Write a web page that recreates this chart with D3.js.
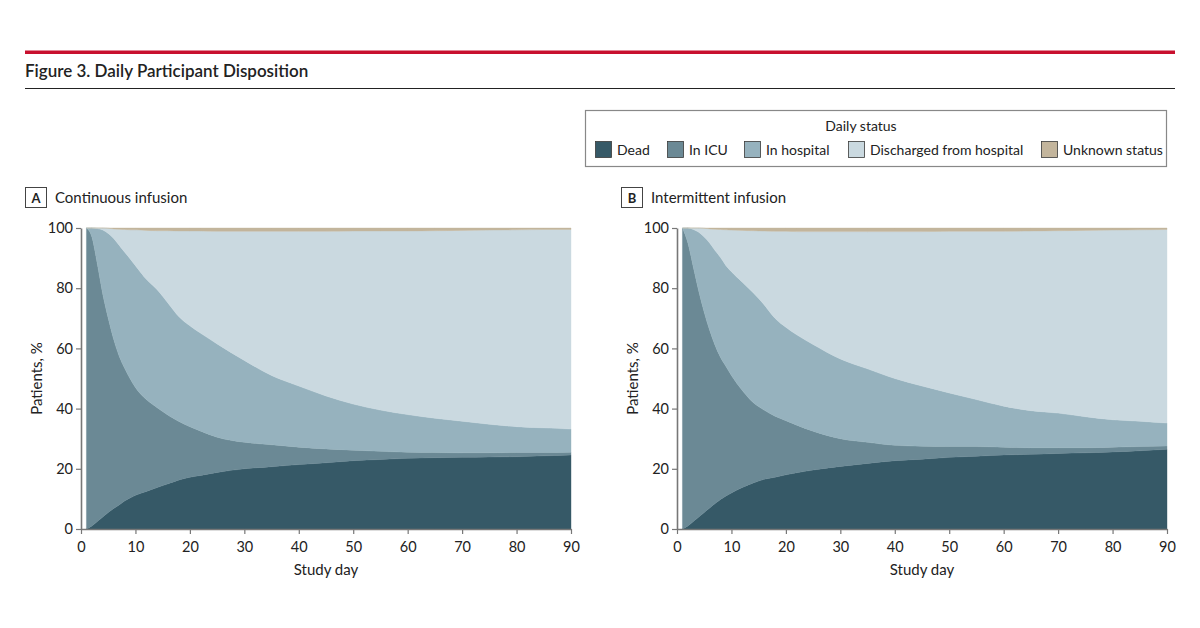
<!DOCTYPE html>
<html>
<head>
<meta charset="utf-8">
<script src="https://cdn.jsdelivr.net/npm/d3@7"></script>
<style>
  body { margin: 0; background: #fff; }
  text { font-family: Lato, "Open Sans", sans-serif; fill: #222; }
</style>
</head>
<body>
<div id="chart"></div>
<script>
var svgWidth = 1200;
var svgHeight = 628;

// study days sampled from the figure
var days = [1, 2, 3, 4, 5, 6, 7, 8, 9, 10, 12, 14, 16, 18, 20, 22, 25, 30, 35, 40, 45, 50, 55, 60, 65, 70, 75, 80, 85, 90];

var statusKeys = ["dead", "icu", "hospital", "discharged", "unknown"];
var statusLabels = ["Dead", "In ICU", "In hospital", "Discharged from hospital", "Unknown status"];
var statusColors = ["#365967", "#6b8995", "#96b2be", "#cad9e0", "#c3b59c"];

// Panel A: continuous infusion (% of patients per status)
var deadA = [0, 1, 2.5, 4, 5.5, 6.8, 8, 9.3, 10.3, 11.2, 12.5, 13.8, 15, 16.3, 17.2, 17.8, 18.8, 20, 20.7, 21.4, 22, 22.7, 23.1, 23.5, 23.7, 23.8, 23.9, 24, 24.3, 24.6];
var icuA = [100, 96, 85.5, 74, 64.5, 56.2, 49.5, 44.2, 39.7, 35.8, 30.5, 26.5, 22.8, 19.4, 16.8, 14.7, 11.7, 8.8, 7.3, 5.8, 4.6, 3.5, 2.7, 2.0, 1.7, 1.5, 1.4, 1.4, 1.1, 0.9];
var hospitalA = [0, 3, 11.8, 21.3, 28.2, 33.5, 36.8, 38.5, 39.8, 40.5, 40, 39.2, 37.2, 34.8, 33.5, 32.5, 31, 27.2, 23, 20.3, 17.6, 15.3, 13.7, 12.5, 11.4, 10.5, 9.5, 8.6, 8.2, 7.7];
var dischargedA = [0, 0, 0.2, 0.7, 1.7, 3.2, 5.3, 7.5, 9.6, 11.9, 16.2, 19.6, 24.1, 28.5, 31.5, 34, 37.4, 42.9, 47.9, 51.4, 54.7, 57.5, 59.5, 61, 62.3, 63.4, 64.5, 65.4, 65.9, 66.3];
var unknownA = [0, 0, 0, 0, 0.1, 0.3, 0.4, 0.5, 0.6, 0.6, 0.8, 0.9, 0.9, 1.0, 1.0, 1.0, 1.1, 1.1, 1.1, 1.1, 1.1, 1.0, 1.0, 1.0, 0.9, 0.8, 0.7, 0.6, 0.5, 0.5];

// Panel B: intermittent infusion
var deadB = [0, 1, 2.5, 4, 5.5, 7, 8.5, 9.8, 11, 12, 13.8, 15.3, 16.5, 17.2, 18, 18.7, 19.6, 20.8, 21.8, 22.7, 23.2, 23.8, 24.2, 24.6, 24.8, 25.1, 25.3, 25.6, 26, 26.5];
var icuB = [100, 94, 84.5, 75, 66.5, 59, 52.5, 47.2, 43, 39, 32.2, 26.7, 23, 20.3, 18, 15.8, 12.9, 9.2, 7, 5.1, 4.3, 3.6, 3.2, 2.6, 2.2, 1.9, 1.7, 1.6, 1.4, 1.1];
var hospitalB = [0, 5, 12.5, 19.6, 25, 29, 31.5, 33.2, 33.5, 34.5, 36, 36.5, 35, 32.5, 31, 30, 28.8, 26.5, 24.4, 22.2, 20, 17.8, 15.6, 13.6, 12.3, 11.5, 10.3, 9.1, 8.4, 7.6];
var dischargedB = [0, 0, 0.5, 1.4, 2.9, 4.7, 7.1, 9.3, 11.9, 13.8, 17.2, 20.6, 24.5, 28.9, 31.9, 34.3, 37.5, 42.3, 45.6, 48.8, 51.3, 53.7, 55.9, 58.1, 59.7, 60.6, 61.9, 63, 63.6, 64.3];
var unknownB = [0, 0, 0, 0, 0.1, 0.3, 0.4, 0.5, 0.6, 0.7, 0.8, 0.9, 1.0, 1.1, 1.1, 1.2, 1.2, 1.2, 1.2, 1.2, 1.2, 1.1, 1.1, 1.1, 1.0, 0.9, 0.8, 0.7, 0.6, 0.5];

var xTicks = [0, 10, 20, 30, 40, 50, 60, 70, 80, 90];
var yTicks = [0, 20, 40, 60, 80, 100];

var svg = d3.select("#chart")
  .append("svg")
  .attr("width", svgWidth)
  .attr("height", svgHeight);

// header: red rule, title, black rule
svg.append("rect")
  .attr("x", 25).attr("y", 50.5)
  .attr("width", 1150).attr("height", 3.5)
  .attr("fill", "#c8102e");

svg.append("text")
  .attr("x", 25).attr("y", 77)
  .attr("font-size", "17px")
  .attr("font-weight", 600)
  .text("Figure 3. Daily Participant Disposition");

svg.append("line")
  .attr("x1", 25).attr("x2", 1175)
  .attr("y1", 88.5).attr("y2", 88.5)
  .attr("stroke", "#222").attr("stroke-width", 1.2);

// legend
var legend = svg.append("g");
legend.append("rect")
  .attr("x", 585.5).attr("y", 110.5)
  .attr("width", 581).attr("height", 56)
  .attr("fill", "#fff")
  .attr("stroke", "#888").attr("stroke-width", 1.2);

legend.append("text")
  .attr("x", 861).attr("y", 131)
  .attr("text-anchor", "middle")
  .attr("font-size", "14px")
  .text("Daily status");

var legendX = [595, 667, 744, 848, 1041];
statusKeys.forEach(function(key, i) {
  legend.append("rect")
    .attr("x", legendX[i] + 0.5).attr("y", 141.5)
    .attr("width", 16).attr("height", 16)
    .attr("fill", statusColors[i])
    .attr("stroke", "#3a3a3a").attr("stroke-width", 0.8);
  legend.append("text")
    .attr("x", legendX[i] + 22).attr("y", 155)
    .attr("font-size", "14px")
    .text(statusLabels[i]);
});

function buildRows(dead, icu, hospital, discharged, unknown) {
  return days.map(function(d, i) {
    return {
      day: d,
      dead: dead[i],
      icu: icu[i],
      hospital: hospital[i],
      discharged: discharged[i],
      unknown: unknown[i]
    };
  });
}

function drawPanel(left, letter, title, rows) {
  var plotLeft = left + 56;
  var plotWidth = 490;
  var plotTop = 228;
  var plotBottom = 529;

  var g = svg.append("g");

  // panel letter box and title
  g.append("rect")
    .attr("x", left + 0.5).attr("y", 187.5)
    .attr("width", 21).attr("height", 20)
    .attr("fill", "#fff")
    .attr("stroke", "#444").attr("stroke-width", 1);
  g.append("text")
    .attr("x", left + 11).attr("y", 203)
    .attr("text-anchor", "middle")
    .attr("font-size", "13px")
    .attr("font-weight", "bold")
    .text(letter);
  g.append("text")
    .attr("x", left + 30).attr("y", 203)
    .attr("font-size", "15px")
    .text(title);

  var xScale = d3.scaleLinear().domain([0, 90]).range([plotLeft, plotLeft + plotWidth]);
  var yScale = d3.scaleLinear().domain([0, 100]).range([plotBottom, plotTop]);

  var stack = d3.stack().keys(statusKeys);
  var series = stack(rows);

  var area = d3.area()
    .x(d => xScale(d.data.day))
    .y0(d => yScale(d[0]))
    .y1(d => yScale(d[1]))
    .curve(d3.curveMonotoneX);

  g.selectAll("path.layer")
    .data(series)
    .enter()
    .append("path")
    .attr("class", "layer")
    .attr("d", area)
    .attr("fill", (d, i) => statusColors[i])
    .attr("stroke", (d, i) => statusColors[i])
    .attr("stroke-width", 0.4);

  // axes
  var bottomAxis = d3.axisBottom(xScale).tickValues(xTicks).tickSize(5).tickSizeOuter(0);
  var leftAxis = d3.axisLeft(yScale).tickValues(yTicks).tickSize(5).tickSizeOuter(0);

  var xAxis = g.append("g")
    .attr("transform", `translate(0, ${plotBottom})`)
    .call(bottomAxis);
  var yAxis = g.append("g")
    .attr("transform", `translate(${plotLeft}, 0)`)
    .call(leftAxis);

  [xAxis, yAxis].forEach(function(ax) {
    ax.select(".domain").attr("stroke", "#777").attr("stroke-width", 1.6);
    ax.selectAll(".tick line").attr("stroke", "#777").attr("stroke-width", 1.2);
    ax.selectAll(".tick text")
      .attr("font-size", "14.5px")
      .attr("font-family", "Lato, 'Open Sans', sans-serif")
      .attr("fill", "#222");
  });
  xAxis.selectAll(".tick text").attr("dy", "1.05em");

  g.append("text")
    .attr("x", plotLeft + plotWidth / 2).attr("y", 575)
    .attr("text-anchor", "middle")
    .attr("font-size", "15px")
    .text("Study day");

  g.append("text")
    .attr("transform", `translate(${left + 17}, ${(plotTop + plotBottom) / 2}) rotate(-90)`)
    .attr("text-anchor", "middle")
    .attr("font-size", "15px")
    .text("Patients, %");
}

drawPanel(25, "A", "Continuous infusion", buildRows(deadA, icuA, hospitalA, dischargedA, unknownA));
drawPanel(621, "B", "Intermittent infusion", buildRows(deadB, icuB, hospitalB, dischargedB, unknownB));
</script>
</body>
</html>
